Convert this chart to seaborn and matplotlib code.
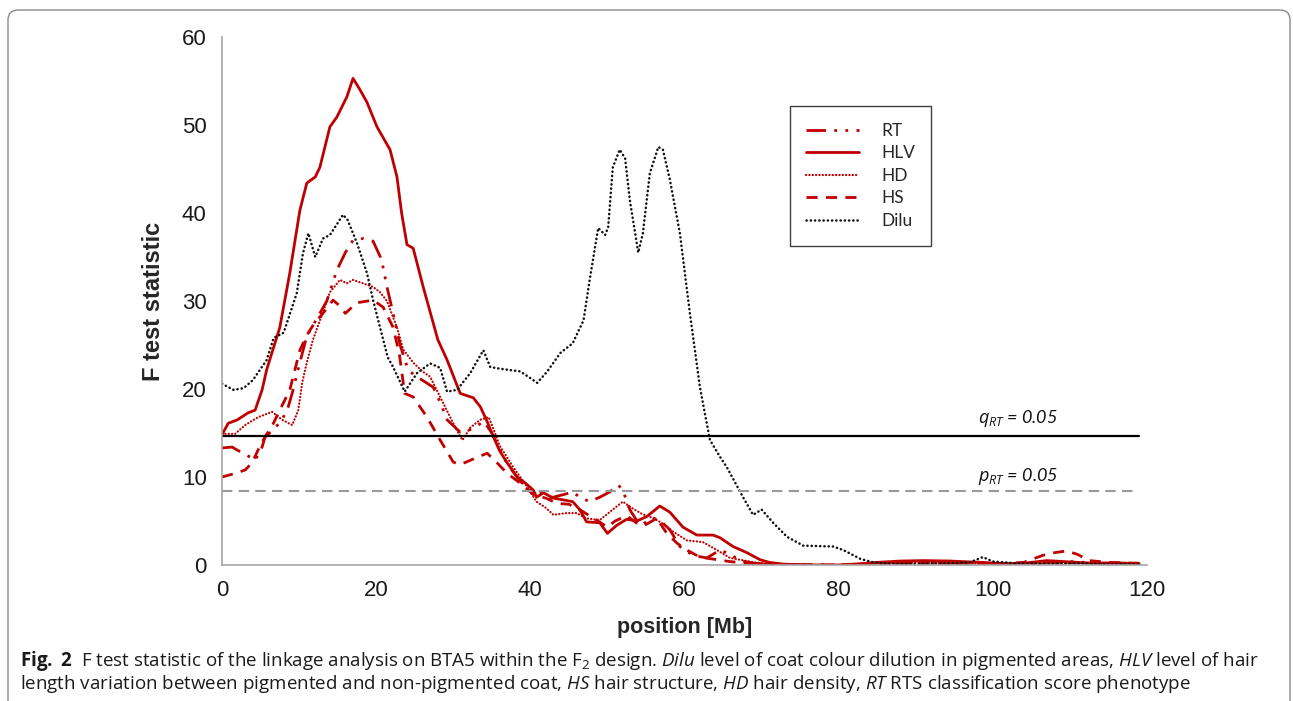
import numpy as np
import pandas as pd
import matplotlib
matplotlib.use("Agg")
import matplotlib.pyplot as plt
import seaborn as sns
from matplotlib.lines import Line2D
from matplotlib.patches import FancyBboxPatch

# -----------------------------
# Data (position in Mb, F test statistic)
# -----------------------------
pos_hlv = [0, 0.8, 2, 3.4, 4.3, 5.2, 5.8, 7.5, 8.8, 10.1, 11, 12.1, 12.7, 14, 14.9, 16.2,
           17, 17.9, 18.8, 20.1, 21.8, 22.7, 23.3, 24, 24.8, 26.1, 27.4, 28, 29.2, 30.9,
           32.6, 33.5, 34.3, 35.2, 36, 37, 38.3, 39.5, 40.4, 40.8, 41.7, 43, 45.5, 46.4,
           47.3, 49, 50, 51.2, 52.5, 53.8, 55.1, 56.8, 58.1, 59.8, 61.6, 63.7, 64.6, 66.3,
           68.1, 69.8, 71, 72.8, 76, 80, 82, 85, 88, 91, 94.5, 97, 98.7, 101, 104, 107,
           110, 113, 116, 119]
f_hlv = [14.8, 16.1, 16.5, 17.3, 17.6, 19.9, 22.2, 27, 33.2, 40.3, 43.4, 44.1, 45.2, 49.8,
         50.9, 53.2, 55.3, 54, 52.6, 49.8, 47.2, 44.1, 40, 36.4, 36, 31.6, 27.5, 25.6, 23.3,
         19.5, 19, 18, 16.5, 14.6, 13, 11.6, 10, 9.2, 8.5, 7.7, 8.2, 7.6, 7.2, 6.3, 4.9,
         4.8, 3.6, 4.5, 5.2, 5.0, 5.5, 6.7, 6.0, 4.3, 3.4, 3.4, 3.1, 2.1, 1.4, 0.6, 0.3,
         0.1, 0, 0, 0.1, 0.3, 0.45, 0.5, 0.45, 0.35, 0.3, 0.15, 0.2, 0.5, 0.35, 0.2, 0.25,
         0.15]

pos_hd = [0, 1.7, 3, 4.7, 6.5, 7.8, 9.1, 9.9, 10.4, 11, 11.8, 13, 14, 15.3, 16.2, 17, 18.3,
          19.6, 20.5, 21.4, 22.7, 23.5, 24.8, 26, 27, 28.3, 29.6, 30.9, 31.2, 32.2, 33.5,
          34.6, 35.2, 36, 37.8, 39.5, 40.8, 42, 43, 44.7, 46, 47.3, 49, 50.7, 52, 53.3,
          54.5, 56, 57.2, 58.5, 60.3, 62.4, 64.2, 65.9, 67.2, 69, 71, 74, 80, 84, 87, 92,
          96, 99, 102, 106, 110, 115, 119]
f_hd = [14.9, 14.9, 15.9, 16.8, 17.4, 16.5, 15.9, 17.6, 20.7, 23, 25.6, 28.5, 31, 32.4, 32,
        32.4, 32, 31.6, 31, 30, 27, 24.5, 23, 22, 21.4, 19.1, 16.8, 14.6, 14.2, 15.6, 16.5,
        16.8, 15.5, 13.6, 11.1, 9, 7.2, 6.5, 5.7, 5.9, 5.9, 5.3, 5.1, 6.3, 7.2, 6.4, 5.8,
        5.3, 4.7, 3.8, 2.8, 2.6, 1.7, 0.8, 0.6, 0.3, 0.15, 0.05, 0, 0.1, 0.25, 0.3, 0.2,
        0.15, 0.1, 0.15, 0.2, 0.1, 0.1]

pos_rt = [0, 1.3, 2.1, 3.2, 4.3, 5.2, 5.6, 6.6, 7.8, 8.6, 9.1, 10.1, 11, 12.3, 13.6, 14.9,
          16, 17, 18.3, 19.6, 20.7, 21.4, 22.2, 23.1, 24.1, 25, 26, 27.4, 28.3, 29.2, 30.9,
          32, 33, 34, 35, 36, 37, 38.7, 40.4, 41.3, 42.5, 44.3, 45.5, 46.4, 47.7, 49, 50.3,
          51.4, 52, 52.9, 54.2, 56, 56.8, 58.1, 59.4, 61.1, 62.9, 64.6, 66, 67.2, 69, 72,
          80, 84, 88, 93, 97, 100, 104, 107, 110, 114, 119]
f_rt = [13.3, 13.4, 13, 12.5, 11.9, 13.4, 14.6, 15.3, 16.5, 18, 19.5, 23, 26, 28, 30, 33.5,
        35.5, 36.9, 37.1, 36.8, 34.7, 31.6, 28.6, 25, 22.3, 21.5, 21, 20.2, 18.5, 16.5,
        15.1, 15.3, 15.8, 16.3, 15, 13.2, 11.5, 9.5, 8.3, 8.2, 7.6, 8, 8.3, 7.7, 7.2, 7.7,
        8.3, 9.1, 8.5, 6.3, 4.5, 5.3, 5.1, 4, 2.1, 1.1, 0.8, 1.7, 1.2, 0.5, 0.2, 0.05, 0,
        0.1, 0.2, 0.2, 0.15, 0.1, 0.1, 0.3, 0.4, 0.2, 0.15]

pos_hs = [0, 1.7, 3, 3.9, 4.7, 5.6, 6.5, 7.5, 8.8, 10.1, 11, 12, 13.1, 14.4, 15.2, 16, 17.5,
          19.6, 20.9, 22.2, 23, 23.7, 24.8, 26.6, 28.3, 30, 30.9, 33, 34.4, 35.7, 37, 38.7,
          40.4, 42, 43.5, 45, 46.4, 47.3, 48.6, 50, 51, 52.5, 54.2, 55, 56.4, 57.7, 59,
          60.3, 62, 63.5, 65.8, 68, 72, 80, 85, 90, 95, 100, 104, 106.5, 108, 109.6, 111,
          112.5, 115, 119]
f_hs = [10, 10.4, 10.8, 11.6, 13.1, 14.6, 15.8, 17.6, 19.9, 24.4, 26.1, 27.5, 28.6, 30.1,
        29.5, 28.6, 29.8, 30.1, 29.3, 27, 24, 19.5, 19.1, 16.8, 14.2, 11.7, 11.4, 12.2,
        12.7, 11.6, 10.4, 9.3, 8, 7.6, 7, 6.9, 6.3, 5.8, 5.1, 4.3, 5.0, 5.6, 4.5, 4.6, 5.3,
        3.6, 2.5, 1.7, 0.9, 0.7, 0.4, 0.2, 0.05, 0, 0.1, 0.2, 0.15, 0.1, 0.3, 1.1, 1.4,
        1.6, 1.2, 0.5, 0.3, 0.2]

pos_dilu = [0, 1.5, 2.8, 4, 5.8, 6.7, 8, 9.7, 10.5, 11.2, 12.1, 13.1, 14, 15.7, 16.3, 17.5,
            18.8, 19.6, 20.5, 21.5, 22.2, 23.7, 25.3, 27, 28.3, 29.2, 30.5, 32.2, 33.9,
            34.8, 36.1, 38.7, 40.9, 42.2, 43.9, 45.5, 46.9, 47.7, 48.8, 49.7, 50.1, 50.7,
            51.6, 52.3, 52.9, 54, 54.6, 55.5, 56.6, 57.2, 58.1, 59.4, 60.7, 62, 63.3, 64.6,
            65.5, 67.6, 68.9, 70, 71.5, 73.3, 75.4, 79.3, 80.6, 82.8, 84.5, 87, 90, 94, 97,
            98.7, 100, 103, 107, 111, 115, 119]
f_dilu = [20.6, 19.9, 20.1, 21, 23.3, 25.8, 26.4, 30.9, 35.4, 37.7, 35, 37.1, 37.5, 39.8,
          39.2, 36.6, 33.2, 30.1, 27, 23.6, 22.5, 19.7, 21.8, 22.9, 22.4, 19.7, 19.9, 21.8,
          24.4, 22.5, 22.3, 22, 20.7, 22, 24.1, 25.2, 27.8, 32.4, 38.3, 37.5, 38.4, 45.2,
          47.2, 46.2, 41.5, 35.5, 37.7, 44.5, 47.5, 47.2, 43.8, 37.7, 28.6, 20.2, 14.2,
          12.3, 11.1, 7.7, 5.7, 6.3, 4.8, 3.2, 2.2, 2.1, 1.7, 0.7, 0.3, 0.15, 0.15, 0.2,
          0.3, 0.9, 0.4, 0.2, 0.15, 0.2, 0.1, 0.1]

q_rt = 14.66   # genome-wide threshold
p_rt = 8.4     # chromosome-wide threshold

# -----------------------------
# Style
# -----------------------------
sns.set_style("white")
plt.rcParams["font.family"] = ["Liberation Sans", "DejaVu Sans"]
plt.rcParams["mathtext.fontset"] = "custom"
plt.rcParams["mathtext.rm"] = "Open Sans"
plt.rcParams["mathtext.it"] = "Open Sans:italic"
plt.rcParams["mathtext.bf"] = "Open Sans:bold"

RED = "#C00000"

fig = plt.figure(figsize=(12.93, 7.01), dpi=100)
ax = fig.add_axes([222 / 1293, 136 / 701, 925 / 1293, 528 / 701])

# name, x, y, colour, width, dash pattern, dotted (round caps)
series = [
    ("RT", pos_rt, f_rt, RED, 2.0, (7, 3, 1, 3, 1, 3), False),
    ("HLV", pos_hlv, f_hlv, RED, 2.0, None, False),
    ("HD", pos_hd, f_hd, RED, 1.6, (0.1, 1.4), True),
    ("HS", pos_hs, f_hs, RED, 2.0, (4, 3), False),
    ("Dilu", pos_dilu, f_dilu, "#111111", 1.8, (0.1, 1.6), True),
]

handles = []
for name, xs, ys, col, lw, dash, dotted in series:
    df = pd.DataFrame({"position": xs, "F": ys})
    sns.lineplot(data=df, x="position", y="F", ax=ax, color=col, linewidth=lw,
                 estimator=None, sort=False)
    h = Line2D([], [], color=col, linewidth=lw)
    for ln in (ax.lines[-1], h):
        if dash is not None:
            ln.set_dashes(dash)
        if dotted:
            ln.set_dash_capstyle("round")
    handles.append(h)

# threshold lines
ax.plot([0, 119], [q_rt, q_rt], color="black", linewidth=1.6)
ax.plot([0, 118.3], [p_rt, p_rt], color="#999999", linewidth=1.5, dashes=(5, 3))
ax.text(103.3, q_rt + 0.8, r"$q_{RT}$ = 0.05", style="italic", family="Lato",
        fontsize=13, ha="center", va="bottom", color="#111111")
ax.text(103.3, p_rt + 0.5, r"$p_{RT}$ = 0.05", style="italic", family="Lato",
        fontsize=13, ha="center", va="bottom", color="#111111")

ax.set_xlim(0, 120)
ax.set_ylim(0, 60)
ax.set_xticks(range(0, 121, 20))
ax.set_yticks(range(0, 61, 10))
for side in ["top", "right"]:
    ax.spines[side].set_visible(False)
for side in ["left", "bottom"]:
    ax.spines[side].set_color("#A6A6A6")
    ax.spines[side].set_linewidth(1.2)
ax.tick_params(axis="both", direction="out", length=5, width=1.1, color="#A6A6A6",
               labelsize=16, labelcolor="#1a1a1a", pad=6)
ax.set_xlabel("position [Mb]", fontsize=15.5, fontweight="bold", labelpad=11)
ax.set_ylabel("F test statistic", fontsize=17, fontweight="bold", labelpad=12)

leg = ax.legend(handles, [s[0] for s in series], loc="upper left",
                bbox_to_anchor=(0.614, 0.869), frameon=True, fancybox=False,
                edgecolor="#404040", framealpha=1, handlelength=3.0,
                handletextpad=1.3, labelspacing=0.38, borderpad=0.95,
                borderaxespad=0, prop={"family": "Lato", "size": 12.5})
leg.get_frame().set_linewidth(1.0)

# outer panel border
fig.patches.append(FancyBboxPatch((0.08, -0.3), 12.82, 7.21,
                                  boxstyle="round,pad=0,rounding_size=0.1",
                                  transform=fig.dpi_scale_trans, fill=False,
                                  edgecolor="#8a8a8a", linewidth=1.0))

# caption
cap1 = (r"$\mathbf{Fig.\ 2}$  F test statistic of the linkage analysis on BTA5 within the F$_2$"
        r" design. $\mathit{Dilu}$ level of coat colour dilution in pigmented areas,"
        r" $\mathit{HLV}$ level of hair")
cap2 = (r"length variation between pigmented and non-pigmented coat, $\mathit{HS}$ hair"
        r" structure, $\mathit{HD}$ hair density, $\mathit{RT}$ RTS classification score"
        r" phenotype")
fig.text(20 / 1293, 1 - 661 / 701, cap1, family="Open Sans", fontsize=13.5, va="center",
         ha="left", color="#1a1a1a")
fig.text(20 / 1293, 1 - 684 / 701, cap2, family="Open Sans", fontsize=13.5, va="center",
         ha="left", color="#1a1a1a")

fig.savefig("out.png", dpi=100, facecolor="white")
